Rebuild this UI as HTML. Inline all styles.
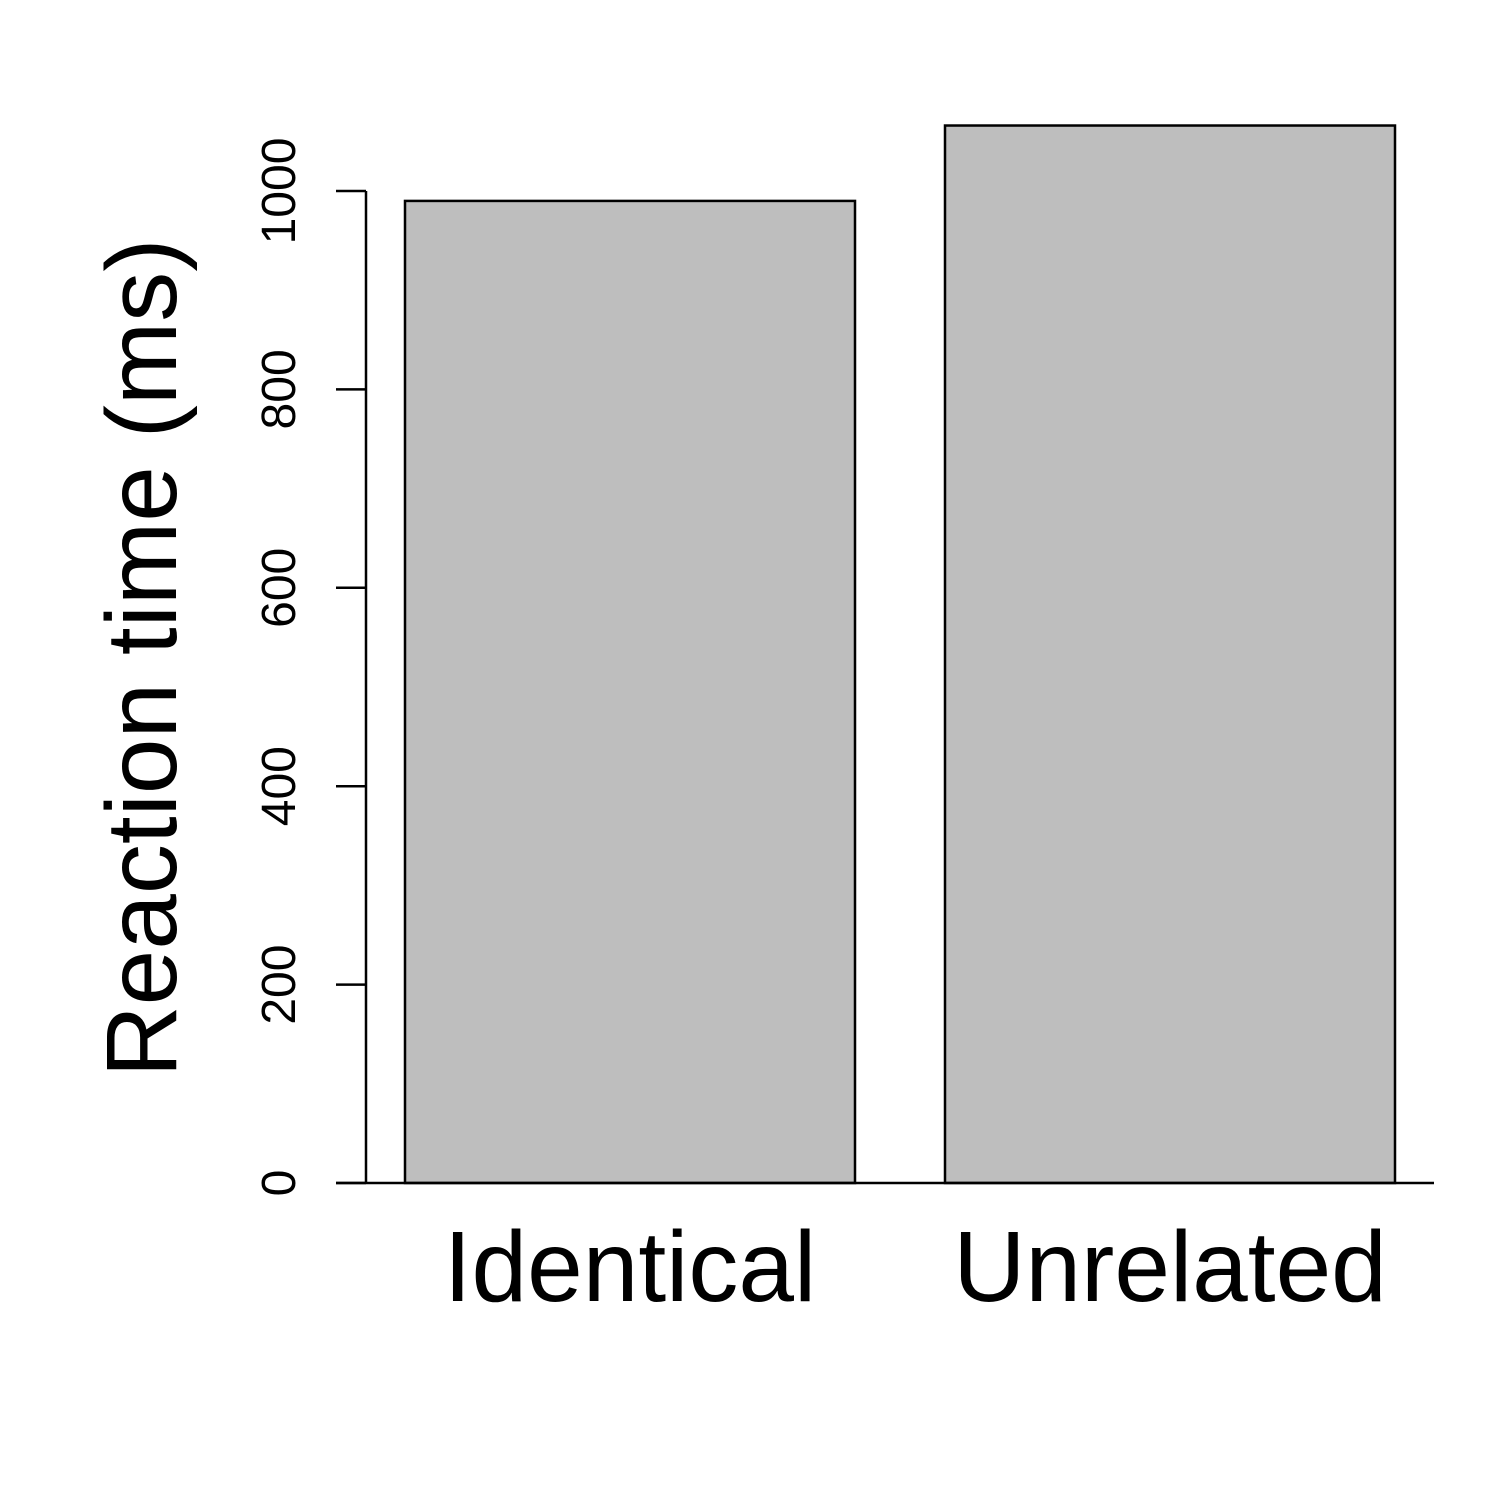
<!DOCTYPE html>
<html><head><meta charset="utf-8"><style>
html,body{margin:0;padding:0;background:#fff;}
svg{display:block;font-family:"Liberation Sans",Arial,sans-serif;}
</style></head><body>
<svg id="chart" width="1500" height="1500" viewBox="0 0 1500 1500">
<rect width="1500" height="1500" fill="#fff"/>
</svg>
<script>
const categories = ["Identical", "Unrelated"];
const values = [990, 1066];
const yTicks = [0, 200, 400, 600, 800, 1000];

const svg = document.getElementById('chart');
const NS = 'http://www.w3.org/2000/svg';
function y(v){ return 1183 - v * 0.992; }
const barW = 450;
function mk(tag, attrs){ const e = document.createElementNS(NS, tag); for (const k in attrs) e.setAttribute(k, attrs[k]); svg.appendChild(e); return e; }

categories.forEach((c, i) => {
  const x0 = 405 + i * 540;
  const r = mk('rect', {x: x0, y: y(values[i]), width: barW, height: y(0) - y(values[i]), fill: '#bebebe', stroke: '#000', 'stroke-width': 2.5});
  
  
  const t = mk('text', {x: x0 + barW / 2, y: 1301, 'font-size': 100, 'text-anchor': 'middle', fill: '#000'});
  t.textContent = c;
  
  
});

const ax = mk('line', {x1: 366, x2: 366, y1: y(0), y2: y(1000), stroke: '#000', 'stroke-width': 2.5});


const bl = mk('line', {x1: 336, x2: 1434, y1: y(0), y2: y(0), stroke: '#000', 'stroke-width': 2.5});



yTicks.forEach(v => {
  const tk = mk('line', {x1: 336, x2: 366, y1: y(v), y2: y(v), stroke: '#000', 'stroke-width': 2.5});
  
  
  const t = mk('text', {x: 0, y: 0, 'font-size': 48, 'text-anchor': 'middle', transform: 'translate(295,' + y(v) + ') rotate(-90)', fill: '#000'});
  t.textContent = v;
  
  
});

const title = mk('text', {x: 0, y: 0, 'font-size': 100, 'text-anchor': 'middle', transform: 'translate(176,658) rotate(-90)', fill: '#000'});
title.textContent = 'Reaction time (ms)';


</script>
</body></html>
